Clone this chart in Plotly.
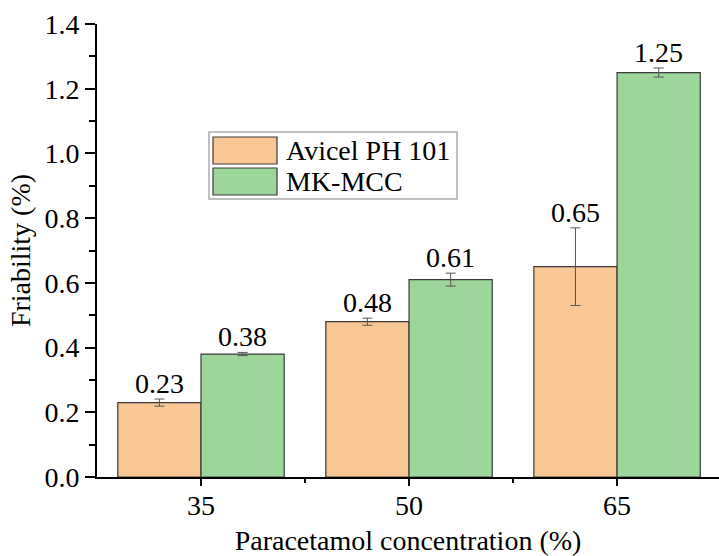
import plotly.graph_objects as go

categories = ["35", "50", "65"]
series_names = ["Avicel PH 101", "MK-MCC"]
avicel = [0.23, 0.48, 0.65]
avicel_err = [0.011, 0.011, 0.12]
mkmcc = [0.38, 0.61, 1.25]
mkmcc_err = [0.005, 0.02, 0.014]
colors = ["#F9C794", "#9CD69A"]

FONT = "Liberation Serif"
FS = 28
W, H = 719, 556
ML, MR, MT, MB = 97, 0, 24, 79

xs = list(range(len(categories)))
fig = go.Figure()
for name, vals, errs, col in [(series_names[0], avicel, avicel_err, colors[0]),
                              (series_names[1], mkmcc, mkmcc_err, colors[1])]:
    fig.add_trace(go.Bar(
        x=xs, y=vals, name=name, marker=dict(color=col, line=dict(color="#3a3a3a", width=1.2)),
        error_y=dict(type="data", array=errs, visible=True, color="#555555", thickness=1, width=5),
        showlegend=False,
    ))

# value labels above error bars
for off, vals, errs in [(-0.2, avicel, avicel_err), (0.2, mkmcc, mkmcc_err)]:
    for i, (v, e) in enumerate(zip(vals, errs)):
        fig.add_annotation(x=xs[i] + off, y=v + e, text=f"{v:.2f}", showarrow=False,
                           yanchor="bottom", yshift=-2, font=dict(family=FONT, size=FS, color="black"))

# custom legend
pw, ph = W - ML - MR, H - MT - MB
def px(xp): return (xp - ML) / pw
def py(yp): return (H - MB - yp) / ph

fig.add_shape(type="rect", xref="paper", yref="paper", x0=px(209), x1=px(457), y0=py(199), y1=py(132),
              line=dict(color="#aaaaaa", width=1.5), fillcolor="white", layer="above")
for k, (name, col) in enumerate(zip(series_names, colors)):
    y0, y1 = 137 + k * 31, 164 + k * 31
    fig.add_shape(type="rect", xref="paper", yref="paper", x0=px(213), x1=px(277), y0=py(y1), y1=py(y0),
                  line=dict(color="#3a3a3a", width=1.2), fillcolor=col, layer="above")
    fig.add_annotation(xref="paper", yref="paper", x=px(284), y=py((y0 + y1) / 2), text=name,
                       showarrow=False, xanchor="left", yanchor="middle",
                       font=dict(family=FONT, size=FS, color="black"))

fig.update_layout(
    width=W, height=H, margin=dict(l=ML, r=MR, t=MT, b=MB),
    paper_bgcolor="white", plot_bgcolor="white",
    barmode="group", bargap=0.2, bargroupgap=0,
    font=dict(family=FONT, size=FS, color="black"),
)
fig.update_xaxes(
    range=[-0.5, 2.49], tickmode="array", tickvals=xs, ticktext=categories,
    showline=True, linecolor="black", linewidth=2, ticks="outside", ticklen=7, tickwidth=2,
    tickcolor="black", showgrid=False, zeroline=False, ticklabelstandoff=-5, automargin=False,
    minor=dict(tickmode="array", tickvals=[0.5, 1.5], ticks="outside", ticklen=4, tickwidth=2, tickcolor="black"),
    title=dict(text="Paracetamol concentration (%)", font=dict(family=FONT, size=FS), standoff=20),
    tickfont=dict(family=FONT, size=FS),
)
fig.update_yaxes(
    range=[0, 1.4], dtick=0.2, tickformat=".1f", automargin=False,
    showline=True, linecolor="black", linewidth=2, ticks="outside", ticklen=10, tickwidth=2,
    tickcolor="black", showgrid=False, zeroline=False,
    minor=dict(dtick=0.1, ticks="outside", ticklen=6, tickwidth=2, tickcolor="black"),
    title=dict(text="Friability (%)", font=dict(family=FONT, size=FS), standoff=6),
    tickfont=dict(family=FONT, size=FS),
)

fig.write_html("out.html")
